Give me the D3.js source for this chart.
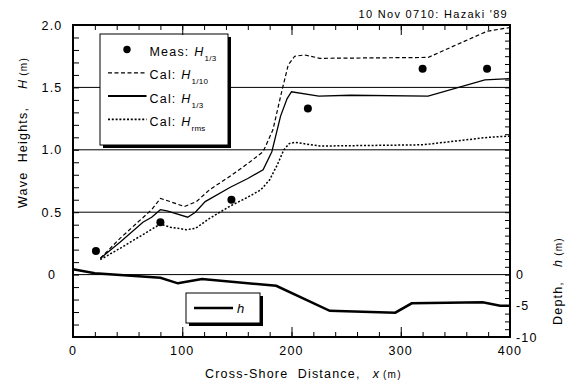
<!DOCTYPE html>
<html>
<head>
<meta charset="utf-8">
<script src="https://cdn.jsdelivr.net/npm/d3@7"></script>
<style>
  body { margin: 0; background: #fff; }
  svg { font-family: 'Liberation Sans', Arial, sans-serif; }
  text { white-space: pre; }
</style>
</head>
<body>
<svg id="chart" width="581" height="385"></svg>
<script>
// measured H1/3
const measX = [21, 80, 145, 215, 320, 379]
const measH = [0.19, 0.42, 0.60, 1.33, 1.65, 1.65]

// calculated H1/10 (dashed)
const h10X = [25, 43, 72, 80, 89, 102, 113, 125, 144, 160, 174, 183, 191, 197, 203, 212, 226, 325, 379, 400]
const h10H = [0.13, 0.29, 0.52, 0.61, 0.585, 0.545, 0.585, 0.68, 0.79, 0.89, 0.985, 1.16, 1.465, 1.68, 1.75, 1.76, 1.733, 1.74, 1.95, 1.98]

// calculated H1/3 (solid)
const h13X = [25, 43, 64, 72, 80, 86, 105, 112, 121, 144, 160, 174, 182, 190, 196, 200, 225, 254, 325, 377, 400]
const h13H = [0.13, 0.26, 0.42, 0.46, 0.52, 0.51, 0.46, 0.50, 0.585, 0.70, 0.77, 0.84, 0.985, 1.27, 1.41, 1.465, 1.43, 1.437, 1.43, 1.56, 1.57]

// calculated Hrms (dotted)
const hrmsX = [25, 43, 80, 89, 104, 112, 125, 144, 160, 172, 180, 187, 193, 198, 203, 226, 320, 380, 400]
const hrmsH = [0.12, 0.21, 0.405, 0.38, 0.36, 0.37, 0.45, 0.55, 0.62, 0.68, 0.76, 0.88, 1.0, 1.05, 1.06, 1.03, 1.04, 1.10, 1.11]

// bottom depth h (right axis)
const depthX = [0, 20, 80, 96, 118, 186, 235, 295, 310, 375, 391, 400]
const depthH = [0.85, 0.2, -0.5, -1.4, -0.7, -1.8, -5.8, -6.1, -4.6, -4.45, -5.0, -5.0]

const xTicks = [0, 100, 200, 300, 400]
const yTicks = [0, 0.5, 1.0, 1.5, 2.0]
const yTickLabels = ['0', '0.5', '1.0', '1.5', '2.0']
const dTicks = [0, -5, -10]
const gridH = [0, 0.5, 1.0, 1.5]

const legendLabels = ['Meas: ', 'Cal: ', 'Cal: ', 'Cal: ']
const legendSubs = ['1/3', '1/10', '1/3', 'rms']

const svg = d3.select('#chart')
const mLeft = 73, mRight = 510, mTop = 25, mBottom = 337

const x = d3.scaleLinear().domain([0, 400]).range([mLeft, mRight])
const y = d3.scaleLinear().domain([-0.5, 2.0]).range([mBottom, mTop])
const yd = d3.scaleLinear().domain([-10, 40]).range([mBottom, mTop])

const LS = '1.2px'

// grid lines
svg.selectAll('.grid')
  .data(gridH)
  .enter().append('line')
  .attr('x1', x(0)).attr('x2', x(400))
  .attr('y1', d => y(d)).attr('y2', d => y(d))
  .attr('stroke', '#000').attr('stroke-width', 1)

const line = d3.line().x(d => x(d[0])).y(d => y(d[1]))
const dline = d3.line().x(d => x(d[0])).y(d => yd(d[1]))

svg.append('path').datum(d3.zip(h10X, h10H))
  .attr('d', line).attr('fill', 'none').attr('stroke', '#000')
  .attr('stroke-width', 1.2).attr('stroke-dasharray', '4,2.5')
svg.append('path').datum(d3.zip(h13X, h13H))
  .attr('d', line).attr('fill', 'none').attr('stroke', '#000')
  .attr('stroke-width', 1.3)
svg.append('path').datum(d3.zip(hrmsX, hrmsH))
  .attr('d', line).attr('fill', 'none').attr('stroke', '#000')
  .attr('stroke-width', 1.5).attr('stroke-dasharray', '2,1.8')
svg.append('path').datum(d3.zip(depthX, depthH))
  .attr('d', dline).attr('fill', 'none').attr('stroke', '#000')
  .attr('stroke-width', 2.5)

svg.selectAll('.meas')
  .data(d3.zip(measX, measH))
  .enter().append('circle')
  .attr('cx', d => x(d[0])).attr('cy', d => y(d[1]))
  .attr('r', 4).attr('fill', '#000')

// legend box (waves)
const lg = svg.append('g')
lg.append('rect').attr('x', 103).attr('y', 37).attr('width', 128).attr('height', 111).attr('fill', '#000')
lg.append('rect').attr('x', 100).attr('y', 34).attr('width', 128).attr('height', 111)
  .attr('fill', '#fff').attr('stroke', '#000').attr('stroke-width', 1)
const rowY = i => 56 + i * 23.3
lg.append('circle').attr('cx', 127).attr('cy', rowY(0) - 6.5).attr('r', 3.7).attr('fill', '#000')
const samples = [null, { w: 1.2, dash: '4,2.5' }, { w: 2, dash: null }, { w: 1.6, dash: '2,1.8' }]
samples.forEach((s, i) => {
  if (!s) return
  lg.append('line').attr('x1', 108).attr('x2', 146.5)
    .attr('y1', rowY(i) - 6.5).attr('y2', rowY(i) - 6.5)
    .attr('stroke', '#000').attr('stroke-width', s.w)
    .attr('stroke-dasharray', s.dash)
})
legendLabels.forEach((lab, i) => {
  const t = lg.append('text').attr('x', 149.5).attr('y', rowY(i))
    .attr('font-size', 12.5).attr('letter-spacing', LS)
  t.append('tspan').text(lab)
  t.append('tspan').attr('font-style', 'italic').text('H')
  t.append('tspan').attr('font-size', 8).attr('dy', 5).attr('letter-spacing', '0.3px').text(legendSubs[i])
})

// legend box (depth)
const lg2 = svg.append('g')
lg2.append('rect').attr('x', 189).attr('y', 296).attr('width', 74).attr('height', 30).attr('fill', '#000')
lg2.append('rect').attr('x', 186).attr('y', 293).attr('width', 74).attr('height', 30)
  .attr('fill', '#fff').attr('stroke', '#000').attr('stroke-width', 1)
lg2.append('line').attr('x1', 194).attr('x2', 233).attr('y1', 308).attr('y2', 308)
  .attr('stroke', '#000').attr('stroke-width', 2.5)
lg2.append('text').attr('x', 237).attr('y', 313).attr('font-size', 13)
  .attr('font-style', 'italic').text('h')

// axes ticks (inward)
const noLab = () => ''
function tickAxis (axis, tr) {
  const g = svg.append('g').attr('transform', tr).call(axis)
  g.select('.domain').remove()
  g.selectAll('text').remove()
  g.selectAll('line').attr('stroke', '#000').attr('stroke-width', 1)
}
const minorX = d3.range(0, 401, 20)
tickAxis(d3.axisBottom(x).tickValues(minorX).tickSize(-5).tickFormat(noLab), `translate(0,${mBottom})`)
tickAxis(d3.axisBottom(x).tickValues(xTicks).tickSize(-10).tickFormat(noLab), `translate(0,${mBottom})`)
tickAxis(d3.axisTop(x).tickValues(minorX).tickSize(-5).tickFormat(noLab), `translate(0,${mTop})`)
tickAxis(d3.axisTop(x).tickValues(xTicks).tickSize(-10).tickFormat(noLab), `translate(0,${mTop})`)
tickAxis(d3.axisLeft(y).tickValues(d3.range(-5, 21).map(d => d / 10)).tickSize(-6).tickFormat(noLab), `translate(${mLeft},0)`)
tickAxis(d3.axisRight(yd).tickValues(d3.range(-10, 40, 1.25)).tickSize(-5).tickFormat(noLab), `translate(${mRight},0)`)

// frame
svg.append('rect').attr('x', mLeft).attr('y', mTop)
  .attr('width', mRight - mLeft).attr('height', mBottom - mTop)
  .attr('fill', 'none').attr('stroke', '#000').attr('stroke-width', 2)

// tick labels
svg.selectAll('.xl').data(xTicks).enter().append('text')
  .attr('x', d => x(d)).attr('y', 355).attr('text-anchor', 'middle')
  .attr('font-size', 12.5).attr('letter-spacing', LS).text(d => d)
svg.selectAll('.yl').data(yTicks).enter().append('text')
  .attr('x', 52).attr('y', d => y(d) + 4.5).attr('text-anchor', 'middle')
  .attr('font-size', 12.5).attr('letter-spacing', LS).text((d, i) => yTickLabels[i])
svg.selectAll('.dl').data(dTicks).enter().append('text')
  .attr('x', 516).attr('y', d => yd(d) + 4.5).attr('text-anchor', 'start')
  .attr('font-size', 12.5).attr('letter-spacing', LS).text(d => d)

// title
svg.append('text').attr('x', 508).attr('y', 18).attr('text-anchor', 'end')
  .attr('font-size', 11).attr('letter-spacing', '1.3px').text("10 Nov 0710: Hazaki '89")

// x label
const xl = svg.append('text').attr('x', 205).attr('y', 378)
  .attr('font-size', 12.5).attr('letter-spacing', LS)
xl.append('tspan').text('Cross-Shore  Distance,')
xl.append('tspan').attr('dx', 12).attr('font-style', 'italic').text('x')
xl.append('tspan').attr('dx', 3).attr('font-size', 10).text('(m)')

// y label
const yl = svg.append('text').attr('transform', 'translate(27,208) rotate(-90)')
  .attr('font-size', 12.5).attr('letter-spacing', LS)
yl.append('tspan').text('Wave  Heights,')
yl.append('tspan').attr('dx', 18).attr('font-style', 'italic').text('H')
yl.append('tspan').attr('dx', 3).attr('font-size', 10).text('(m)')

// right label
const rl = svg.append('text').attr('transform', 'translate(562,325) rotate(-90)')
  .attr('font-size', 12.5).attr('letter-spacing', LS)
rl.append('tspan').text('Depth,')
rl.append('tspan').attr('dx', 14).attr('font-style', 'italic').text('h')
rl.append('tspan').attr('dx', 3).attr('font-size', 10).text('(m)')
</script>
</body>
</html>
